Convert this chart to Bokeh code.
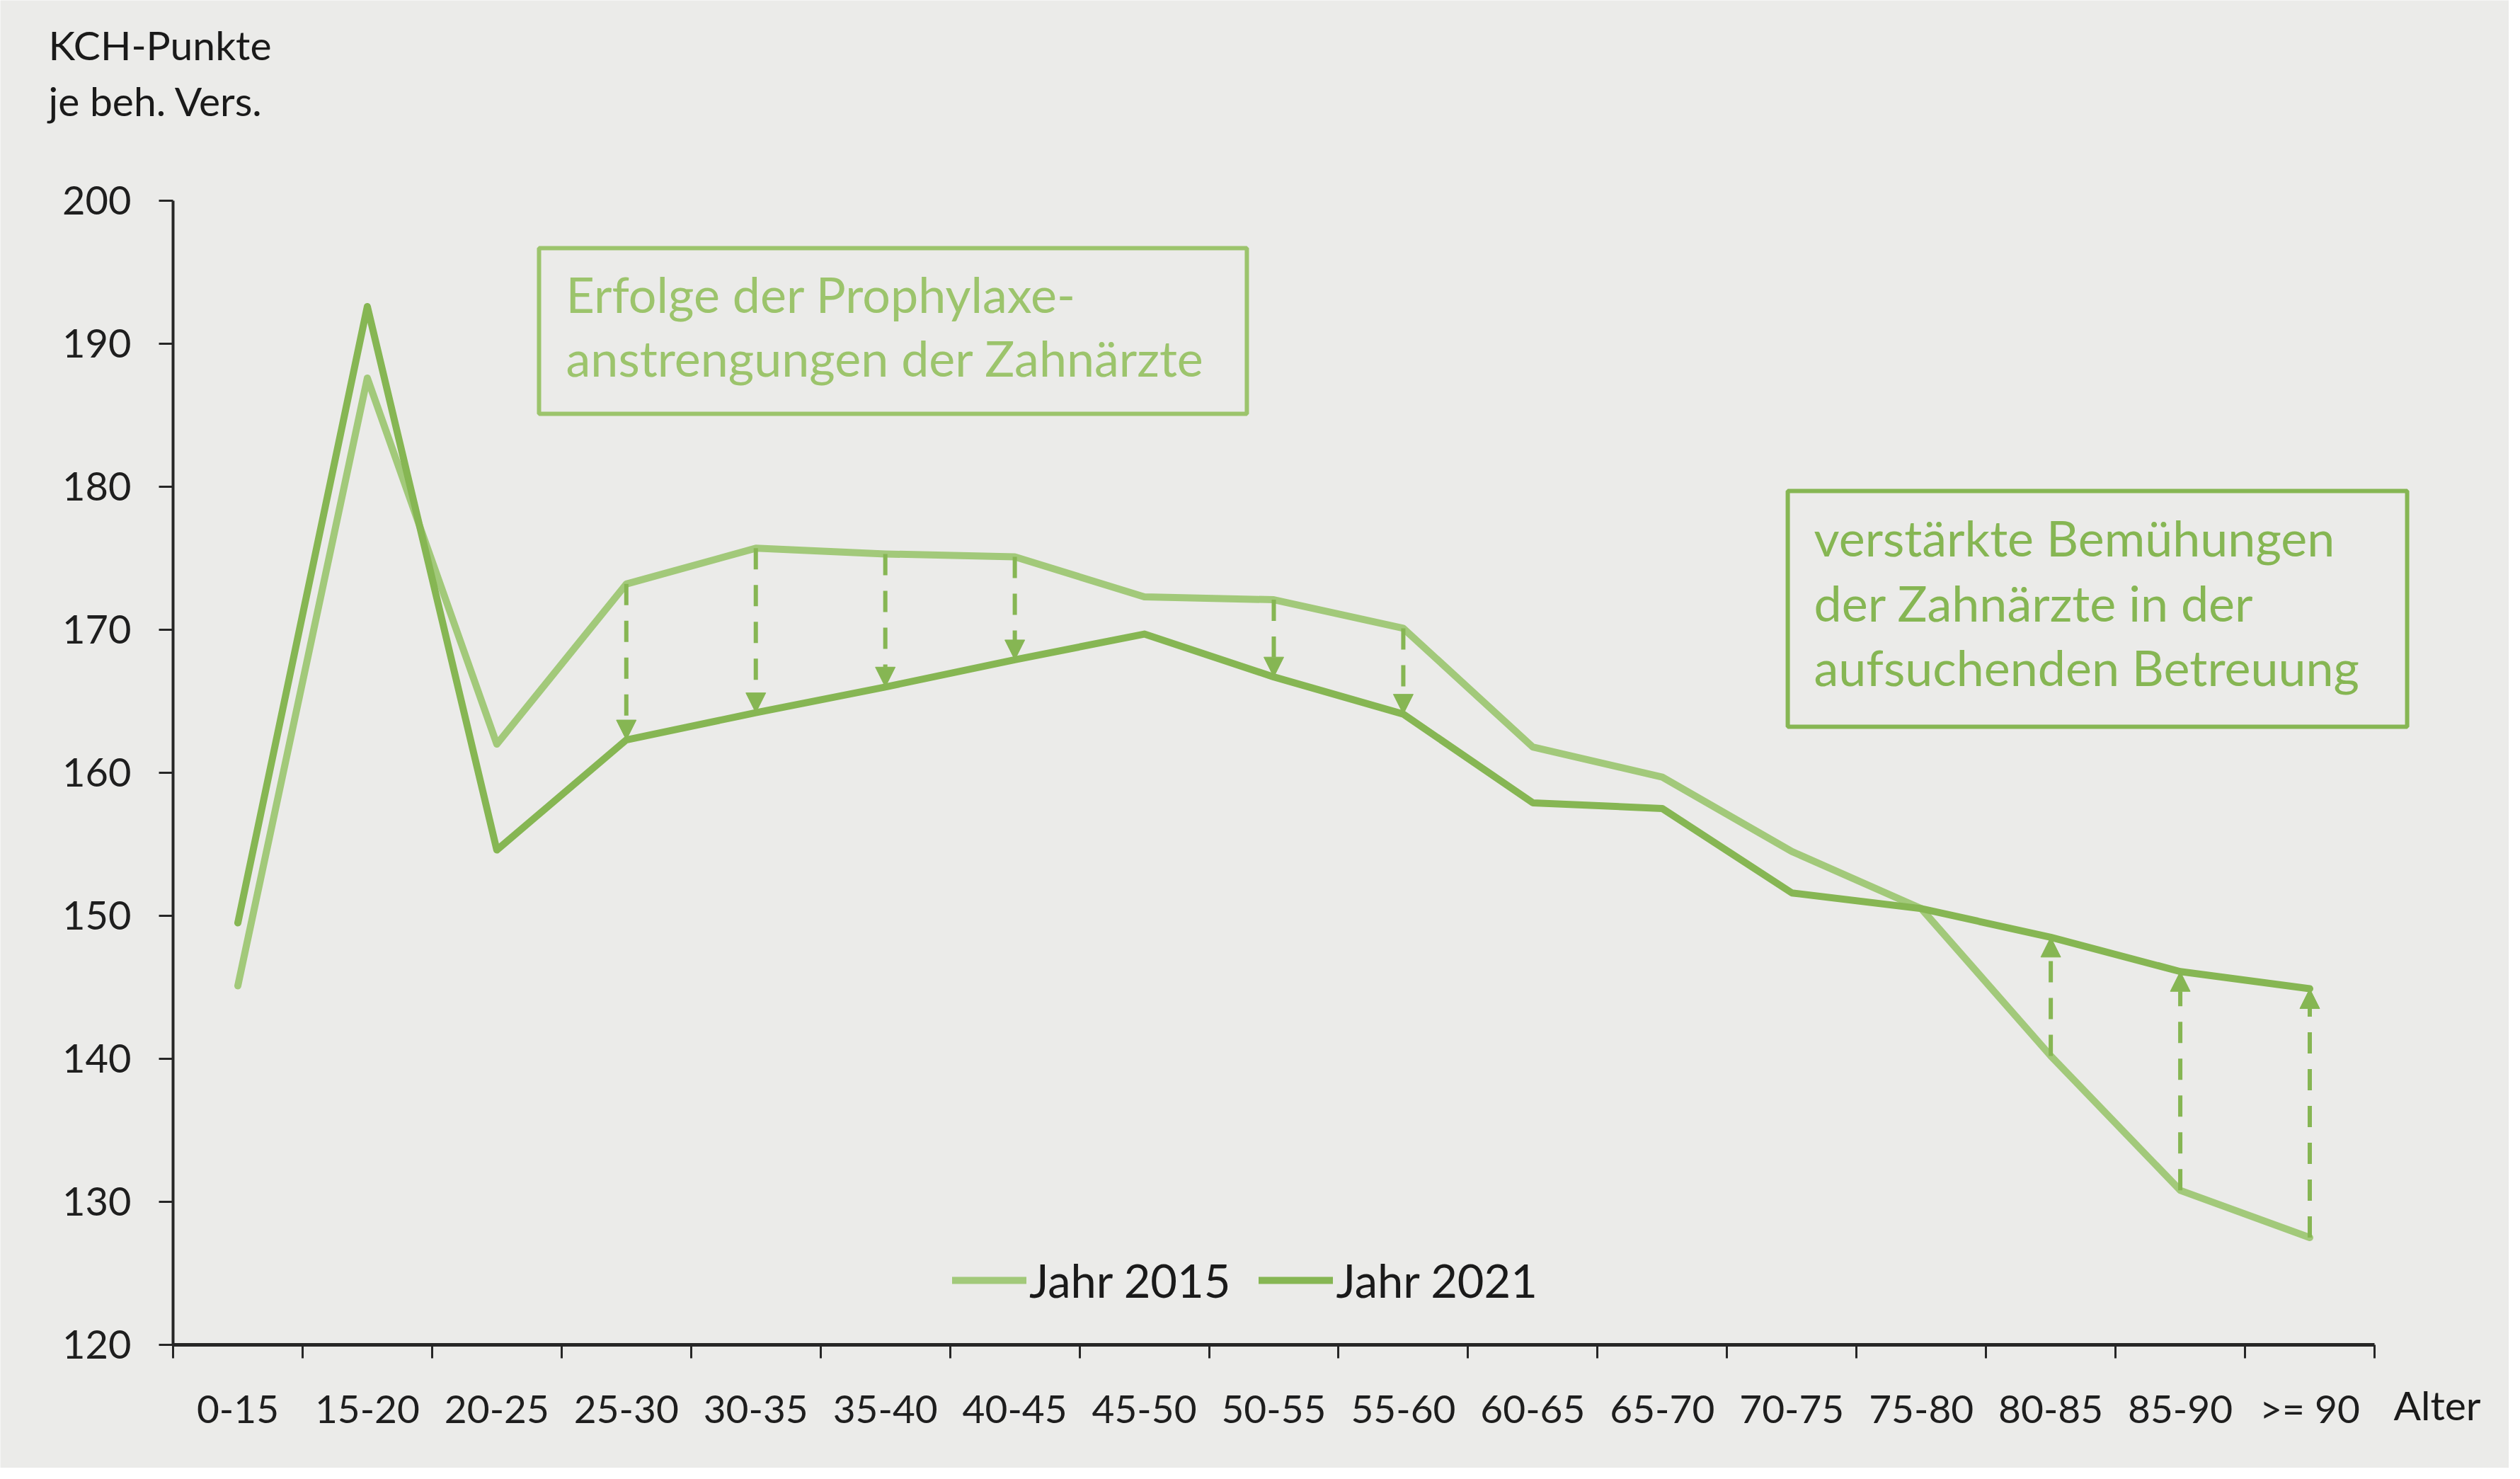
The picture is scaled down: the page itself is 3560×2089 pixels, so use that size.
from bokeh.plotting import figure
from bokeh.models import (Range1d, FixedTicker, CustomJSTickFormatter, Legend, LegendItem,
                          Arrow, NormalHead, ColumnDataSource, BoxAnnotation, Label)
from bokeh.embed import file_html
from bokeh.resources import INLINE

# ---------------- data ----------------
categories = ["0-15", "15-20", "20-25", "25-30", "30-35", "35-40", "40-45", "45-50", "50-55",
              "55-60", "60-65", "65-70", "70-75", "75-80", "80-85", "85-90", ">= 90"]
jahr_2015 = [145.1, 187.6, 162.0, 173.2, 175.7, 175.3, 175.1, 172.3, 172.1, 170.1,
             161.8, 159.7, 154.5, 150.5, 140.2, 130.8, 127.5]
jahr_2021 = [149.5, 192.6, 154.6, 162.3, 164.2, 166.0, 167.9, 169.7, 166.7, 164.1,
             157.9, 157.5, 151.6, 150.5, 148.5, 146.1, 144.9]
arrow_categories = ["25-30", "30-35", "35-40", "40-45", "50-55", "55-60", "80-85", "85-90", ">= 90"]
y_ticks = [120, 130, 140, 150, 160, 170, 180, 190, 200]
series_names = ["Jahr 2015", "Jahr 2021"]
y_title = ["KCH-Punkte", "je beh. Vers."]
x_title = "Alter"
box1_lines = ["Erfolge der Prophylaxe-", "anstrengungen der Zahnärzte"]
box2_lines = ["verstärkte Bemühungen", "der Zahnärzte in der", "aufsuchenden Betreuung"]

# ---------------- style ----------------
BG = "#ebebe9"
C15 = "#a2c97a"
C21 = "#86b653"
CBOX1 = "#9cc46c"
AX = "#262626"
FONT = "Lato"
LIFT = 1.2  # vertical text correction (data units)

xs = [i + 0.5 for i in range(len(categories))]
n = len(categories)

p = figure(width=3544, height=2073, output_backend="svg", toolbar_location=None,
           x_range=Range1d(-1.3338, 18.0387), y_range=Range1d(111.386, 214.0099),
           min_border_left=0, min_border_right=0, min_border_top=0, min_border_bottom=0)
p.background_fill_color = BG
p.border_fill_color = BG
p.outline_line_color = None
p.grid.visible = False

# x axis
xa = p.xaxis[0]
xa.fixed_location = y_ticks[0]
xa.ticker = FixedTicker(ticks=xs, minor_ticks=list(range(n + 1)))
xa.formatter = CustomJSTickFormatter(args=dict(labels=categories),
                                     code="return labels[Math.floor(tick)];")
xa.bounds = (0, n)
xa.major_tick_out = 0
xa.major_tick_in = 0
xa.minor_tick_out = 19
xa.minor_tick_in = 0
xa.minor_tick_line_width = 3
xa.minor_tick_line_color = AX
xa.axis_line_width = 5
xa.axis_line_color = AX
xa.major_label_text_font = FONT
xa.major_label_text_font_size = "55px"
xa.major_label_text_color = "#1e1e1e"
xa.major_label_standoff = 38

# y axis
ya = p.yaxis[0]
ya.fixed_location = 0
ya.ticker = FixedTicker(ticks=y_ticks)
ya.bounds = (y_ticks[0], y_ticks[-1])
ya.minor_tick_out = 0
ya.minor_tick_in = 0
ya.major_tick_out = 20
ya.major_tick_in = 0
ya.major_tick_line_width = 3
ya.major_tick_line_color = AX
ya.axis_line_width = 4
ya.axis_line_color = AX
ya.major_label_text_font = FONT
ya.major_label_text_font_size = "56px"
ya.major_label_text_color = "#1e1e1e"
ya.major_label_standoff = 39

# lines
r15 = p.line(xs, jahr_2015, line_color=C15, line_width=10, line_cap="round", line_join="round")
r21 = p.line(xs, jahr_2021, line_color=C21, line_width=10, line_cap="round", line_join="round")

# arrows
idx = [categories.index(c) for c in arrow_categories]
arrow_src = ColumnDataSource(dict(
    x=[xs[i] for i in idx],
    y0=[jahr_2015[i] for i in idx],
    y1=[jahr_2021[i] for i in idx],
))
p.add_layout(Arrow(end=NormalHead(size=28, fill_color=C21, line_color=C21, line_width=1),
                   x_start="x", y_start="y0", x_end="x", y_end="y1", source=arrow_src,
                   line_color=C21, line_width=6, line_dash="30 22"))

# annotation boxes
p.add_layout(BoxAnnotation(left=2.826, right=8.292, bottom=185.10, top=196.68,
                           fill_color=None, fill_alpha=0, line_color=CBOX1, line_alpha=1,
                           line_width=6))
p.add_layout(BoxAnnotation(left=12.469, right=17.252, bottom=163.22, top=179.70,
                           fill_color=None, fill_alpha=0, line_color=C21, line_alpha=1,
                           line_width=6))

for k, t in enumerate(box1_lines):
    p.add_layout(Label(x=3.034, y=192.28 + LIFT - k * 4.45, text=t, text_font=FONT,
                       text_font_size="70px", text_color=CBOX1, text_baseline="alphabetic"))
for k, t in enumerate(box2_lines):
    p.add_layout(Label(x=12.671, y=175.25 + LIFT - k * 4.53, text=t, text_font=FONT,
                       text_font_size="70px", text_color=C21, text_baseline="alphabetic"))

# axis titles
for k, t in enumerate(y_title):
    p.add_layout(Label(x=-0.962, y=210.94 - k * 3.93, text=t, text_font=FONT,
                       text_font_size="57px", text_color="#1a1a1a", text_baseline="alphabetic"))
p.add_layout(Label(x=17.148, y=114.6 + LIFT, text=x_title, text_font=FONT, text_font_size="57px",
                   text_color="#1a1a1a", text_baseline="alphabetic"))

# legend
legend = Legend(items=[LegendItem(label=series_names[0], renderers=[r15]),
                       LegendItem(label=series_names[1], renderers=[r21])],
                orientation="horizontal", location=(1345, 226),
                label_text_font=FONT, label_text_font_size="65px", label_text_color="#1a1a1a",
                glyph_width=105, glyph_height=60, label_height=60, label_standoff=4,
                spacing=40, padding=0, margin=0,
                background_fill_alpha=0, border_line_color=None)
p.add_layout(legend)

open("out.html", "w").write(file_html(p, INLINE))
